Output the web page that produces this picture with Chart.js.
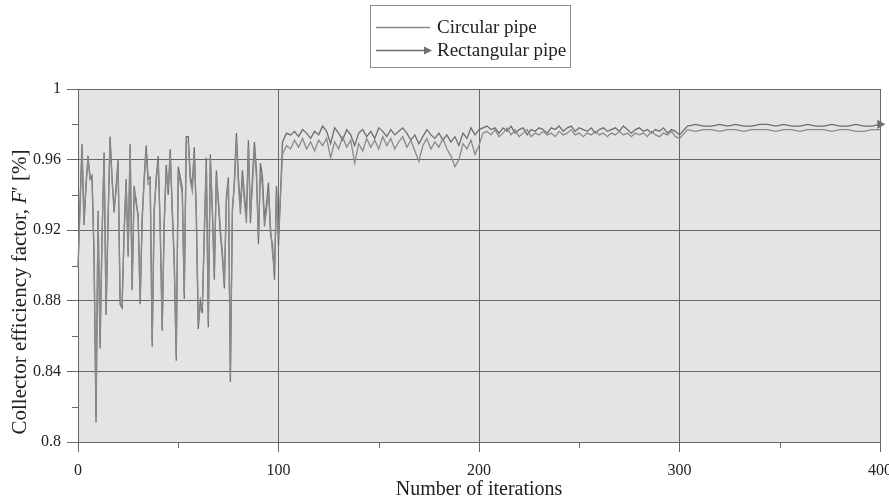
<!DOCTYPE html>
<html>
<head>
<meta charset="utf-8">
<script src="https://cdn.jsdelivr.net/npm/chart.js@4/dist/chart.umd.min.js"></script>
<style>
  body { margin: 0; background: #ffffff; }
  canvas { display: block; }
</style>
</head>
<body>
<canvas id="effChart" width="889" height="502"></canvas>
<script>
const iterations = [
    0, 1, 2, 3, 4, 5, 6, 7, 8, 9, 10, 11, 12, 13, 14, 15, 16, 17, 18, 19,
    20, 21, 22, 23, 24, 25, 26, 27, 28, 29, 30, 31, 32, 33, 34, 35, 36, 37, 38, 39,
    40, 41, 42, 43, 44, 45, 46, 47, 48, 49, 50, 51, 52, 53, 54, 55, 56, 57, 58, 59,
    60, 61, 62, 63, 64, 65, 66, 67, 68, 69, 70, 71, 72, 73, 74, 75, 76, 77, 78, 79,
    80, 81, 82, 83, 84, 85, 86, 87, 88, 89, 90, 91, 92, 93, 94, 95, 96, 97, 98, 99, 100,
    102, 104, 106, 108, 110, 112, 114, 116, 118, 120, 122, 124, 126, 128, 130, 132, 134, 136, 138, 140,
    142, 144, 146, 148, 150, 152, 154, 156, 158, 160, 162, 164, 166, 168, 170, 172, 174, 176, 178, 180,
    182, 184, 186, 188, 190, 192, 194, 196, 198, 200,
    202, 204, 206, 208, 210, 212, 214, 216, 218, 220, 222, 224, 226, 228, 230, 232, 234, 236, 238, 240,
    242, 244, 246, 248, 250, 252, 254, 256, 258, 260, 262, 264, 266, 268, 270, 272, 274, 276, 278, 280,
    282, 284, 286, 288, 290, 292, 294, 296, 298, 300,
    304, 308, 312, 316, 320, 324, 328, 332, 336, 340, 344, 348, 352, 356, 360, 364, 368, 372, 376, 380,
    384, 388, 392, 396, 400
];

const circularPipe = [
    0.899, 0.932, 0.966, 0.925, 0.947, 0.960, 0.951, 0.948, 0.908, 0.815,
    0.928, 0.856, 0.918, 0.961, 0.875, 0.928, 0.970, 0.947, 0.933, 0.942,
    0.957, 0.881, 0.879, 0.917, 0.946, 0.908, 0.966, 0.889, 0.942, 0.938,
    0.926, 0.881, 0.928, 0.947, 0.965, 0.946, 0.947, 0.857, 0.933, 0.947,
    0.959, 0.923, 0.866, 0.922, 0.954, 0.943, 0.963, 0.933, 0.904, 0.849,
    0.953, 0.947, 0.941, 0.884, 0.970, 0.970, 0.948, 0.942, 0.964, 0.931,
    0.867, 0.877, 0.876, 0.917, 0.958, 0.868, 0.960, 0.933, 0.895, 0.951,
    0.938, 0.921, 0.908, 0.890, 0.936, 0.947, 0.837, 0.933, 0.945, 0.972,
    0.946, 0.929, 0.950, 0.936, 0.924, 0.967, 0.929, 0.945, 0.966, 0.950,
    0.917, 0.953, 0.945, 0.922, 0.931, 0.942, 0.922, 0.907, 0.897, 0.940,
    0.916,
    0.963, 0.968, 0.966, 0.971, 0.967, 0.972, 0.966, 0.970, 0.965, 0.971,
    0.968, 0.972, 0.961, 0.970, 0.966, 0.973, 0.967, 0.971, 0.958, 0.969,
    0.965, 0.972, 0.967, 0.971, 0.966, 0.973, 0.968, 0.972, 0.966, 0.970,
    0.973, 0.967, 0.971, 0.965, 0.959, 0.968, 0.972, 0.966, 0.970, 0.967,
    0.972, 0.966, 0.962, 0.956, 0.960, 0.969, 0.966, 0.971, 0.963, 0.968,
    0.975, 0.976, 0.974, 0.977, 0.973, 0.975, 0.978, 0.974, 0.977, 0.973,
    0.975, 0.977, 0.973, 0.975, 0.974, 0.976, 0.974, 0.975, 0.973, 0.976,
    0.974, 0.975, 0.977, 0.974, 0.975, 0.973, 0.975, 0.974, 0.976, 0.974,
    0.975, 0.973, 0.975, 0.974, 0.976, 0.974, 0.975, 0.973, 0.975, 0.974,
    0.975, 0.973, 0.976, 0.974, 0.973, 0.975, 0.974, 0.976, 0.973, 0.972,
    0.977, 0.976, 0.977, 0.977, 0.976, 0.977, 0.977, 0.976, 0.977, 0.977,
    0.977, 0.976, 0.977, 0.977, 0.976, 0.977, 0.977, 0.977, 0.976, 0.977,
    0.977, 0.976, 0.976, 0.977, 0.977
];

const rectangularPipe = [
    0.899, 0.935, 0.969, 0.923, 0.945, 0.962, 0.949, 0.951, 0.905, 0.811,
    0.931, 0.853, 0.915, 0.964, 0.872, 0.925, 0.973, 0.950, 0.930, 0.945,
    0.960, 0.878, 0.876, 0.920, 0.949, 0.905, 0.969, 0.886, 0.945, 0.935,
    0.929, 0.878, 0.925, 0.950, 0.968, 0.949, 0.950, 0.854, 0.930, 0.950,
    0.962, 0.920, 0.863, 0.925, 0.957, 0.940, 0.966, 0.930, 0.901, 0.846,
    0.956, 0.950, 0.944, 0.881, 0.973, 0.973, 0.951, 0.945, 0.967, 0.928,
    0.864, 0.880, 0.873, 0.920, 0.961, 0.865, 0.963, 0.930, 0.892, 0.954,
    0.935, 0.918, 0.905, 0.887, 0.939, 0.950, 0.834, 0.930, 0.948, 0.975,
    0.950, 0.933, 0.954, 0.940, 0.928, 0.971, 0.924, 0.950, 0.970, 0.954,
    0.912, 0.958, 0.950, 0.926, 0.935, 0.947, 0.918, 0.912, 0.892, 0.945,
    0.911,
    0.970, 0.975, 0.974, 0.976, 0.973, 0.977, 0.975, 0.972, 0.976, 0.974,
    0.979, 0.976, 0.969, 0.978, 0.975, 0.971, 0.977, 0.974, 0.968, 0.975,
    0.977, 0.973, 0.976, 0.972, 0.978, 0.976, 0.973, 0.977, 0.974, 0.976,
    0.978, 0.975, 0.971, 0.974, 0.969, 0.973, 0.977, 0.974, 0.972, 0.975,
    0.971, 0.974, 0.970, 0.973, 0.968, 0.975, 0.972, 0.978, 0.974, 0.977,
    0.978, 0.979, 0.977, 0.978, 0.975, 0.978, 0.976, 0.979, 0.975, 0.977,
    0.978, 0.974, 0.977, 0.976, 0.978, 0.977, 0.975, 0.978, 0.977, 0.979,
    0.976, 0.978, 0.979, 0.976, 0.978, 0.977, 0.976, 0.978, 0.975, 0.977,
    0.978, 0.976, 0.977, 0.978, 0.976, 0.979, 0.977, 0.975, 0.977, 0.978,
    0.976, 0.977, 0.975, 0.977, 0.976, 0.978, 0.975, 0.977, 0.976, 0.974,
    0.979, 0.980, 0.979, 0.979, 0.980, 0.979, 0.980, 0.979, 0.979, 0.980,
    0.980, 0.979, 0.980, 0.979, 0.979, 0.980, 0.979, 0.979, 0.980, 0.979,
    0.979, 0.980, 0.979, 0.979, 0.980
];

const seriesNames = ["Circular pipe", "Rectangular pipe"];
const seriesColors = ["#8a8a8a", "#6e6e6e"];
const yTitleParts = [["Collector efficiency factor, ", false], ["F", true], ["\u2032 [%]", false]];
const xTitle = "Number of iterations";

const serif = '"Liberation Serif", "Times New Roman", serif';
const gridColor = "#666666";

function toPoints(values) {
    return values.map(function (v, i) { return { x: iterations[i], y: v }; });
}

// grey plot background
const plotBackground = {
    id: "plotBackground",
    beforeDraw: function (chart) {
        const a = chart.chartArea;
        const ctx = chart.ctx;
        ctx.save();
        ctx.fillStyle = "#e4e4e4";
        ctx.fillRect(a.left, a.top, a.right - a.left, a.bottom - a.top);
        ctx.restore();
    }
};

// minor ticks, axis titles and the boxed legend
const extras = {
    id: "extras",
    afterDraw: function (chart) {
        const ctx = chart.ctx;
        const a = chart.chartArea;
        const xs = chart.scales.x;
        const ys = chart.scales.y;
        ctx.save();
        ctx.strokeStyle = gridColor;
        ctx.lineWidth = 1;
        [0.82, 0.86, 0.9, 0.94, 0.98].forEach(function (v) {
            const py = Math.round(ys.getPixelForValue(v)) + 0.5;
            ctx.beginPath();
            ctx.moveTo(a.left - 6, py);
            ctx.lineTo(a.left, py);
            ctx.stroke();
        });
        [50, 150, 250, 350].forEach(function (v) {
            const px = Math.round(xs.getPixelForValue(v)) + 0.5;
            ctx.beginPath();
            ctx.moveTo(px, a.bottom);
            ctx.lineTo(px, a.bottom + 6);
            ctx.stroke();
        });

        // x title
        ctx.fillStyle = "#222222";
        ctx.font = "20px " + serif;
        ctx.textAlign = "center";
        ctx.textBaseline = "middle";
        ctx.fillText(xTitle, (a.left + a.right) / 2, 490);

        // y title with italic F
        ctx.translate(20, 292);
        ctx.rotate(-Math.PI / 2);
        let total = 0;
        const widths = yTitleParts.map(function (p) {
            ctx.font = (p[1] ? "italic " : "") + "21px " + serif;
            const w = ctx.measureText(p[0]).width;
            total += w;
            return w;
        });
        let cx = -total / 2;
        ctx.textAlign = "left";
        yTitleParts.forEach(function (p, i) {
            ctx.font = (p[1] ? "italic " : "") + "21px " + serif;
            ctx.fillText(p[0], cx, 0);
            cx += widths[i];
        });
        ctx.restore();

        // legend
        ctx.save();
        ctx.strokeStyle = "#8c8c8c";
        ctx.lineWidth = 1;
        ctx.strokeRect(370.5, 5.5, 200, 62);
        ctx.font = "19px " + serif;
        ctx.textBaseline = "middle";
        ctx.fillStyle = "#222222";
        const rows = [27, 50];
        seriesNames.forEach(function (name, i) {
            ctx.strokeStyle = seriesColors[i];
            ctx.lineWidth = 1.4;
            ctx.beginPath();
            ctx.moveTo(376, rows[i] + 0.5);
            ctx.lineTo(i === 1 ? 426 : 430, rows[i] + 0.5);
            ctx.stroke();
            if (i === 1) {
                ctx.fillStyle = seriesColors[i];
                ctx.beginPath();
                ctx.moveTo(432, rows[i] + 0.5);
                ctx.lineTo(424, rows[i] - 3.5);
                ctx.lineTo(424, rows[i] + 4.5);
                ctx.closePath();
                ctx.fill();
                ctx.fillStyle = "#222222";
            }
            ctx.fillText(name, 437, rows[i] + 1);
        });
        ctx.restore();
    }
};

new Chart("effChart", {
    type: "line",
    data: {
        datasets: [{
            label: seriesNames[0],
            data: toPoints(circularPipe),
            borderColor: seriesColors[0],
            borderWidth: 1.3,
            pointRadius: 0,
            tension: 0
        }, {
            label: seriesNames[1],
            data: toPoints(rectangularPipe),
            borderColor: seriesColors[1],
            backgroundColor: seriesColors[1],
            borderWidth: 1.3,
            pointStyle: "triangle",
            pointRotation: 90,
            pointRadius: function (ctx) {
                return ctx.dataIndex === iterations.length - 1 ? 4 : 0;
            },
            clip: 6,
            tension: 0
        }]
    },
    options: {
        responsive: false,
        animation: false,
        layout: { padding: { top: 89, right: 9, bottom: 0, left: 0 } },
        plugins: {
            legend: { display: false },
            tooltip: { enabled: false }
        },
        scales: {
            x: {
                type: "linear",
                min: 0,
                max: 400,
                ticks: {
                    stepSize: 100,
                    color: "#222222",
                    font: { family: serif, size: 16 },
                    padding: 9,
                    maxRotation: 0
                },
                grid: { color: gridColor, tickColor: gridColor, tickLength: 10, lineWidth: 1 },
                border: { color: gridColor, width: 1 },
                afterFit: function (scale) {
                    scale.height = 60;
                    scale.paddingLeft = 0;
                    scale.paddingRight = 0;
                }
            },
            y: {
                min: 0.8,
                max: 1,
                ticks: {
                    stepSize: 0.04,
                    color: "#222222",
                    font: { family: serif, size: 16 },
                    padding: 6,
                    callback: function (value) {
                        return String(Number(value.toFixed(2)));
                    }
                },
                grid: { color: gridColor, tickColor: gridColor, tickLength: 11, lineWidth: 1 },
                border: { color: gridColor, width: 1 },
                afterFit: function (scale) {
                    scale.width = 78;
                    scale.paddingTop = 0;
                    scale.paddingBottom = 0;
                }
            }
        }
    },
    plugins: [plotBackground, extras]
});
</script>
</body>
</html>
